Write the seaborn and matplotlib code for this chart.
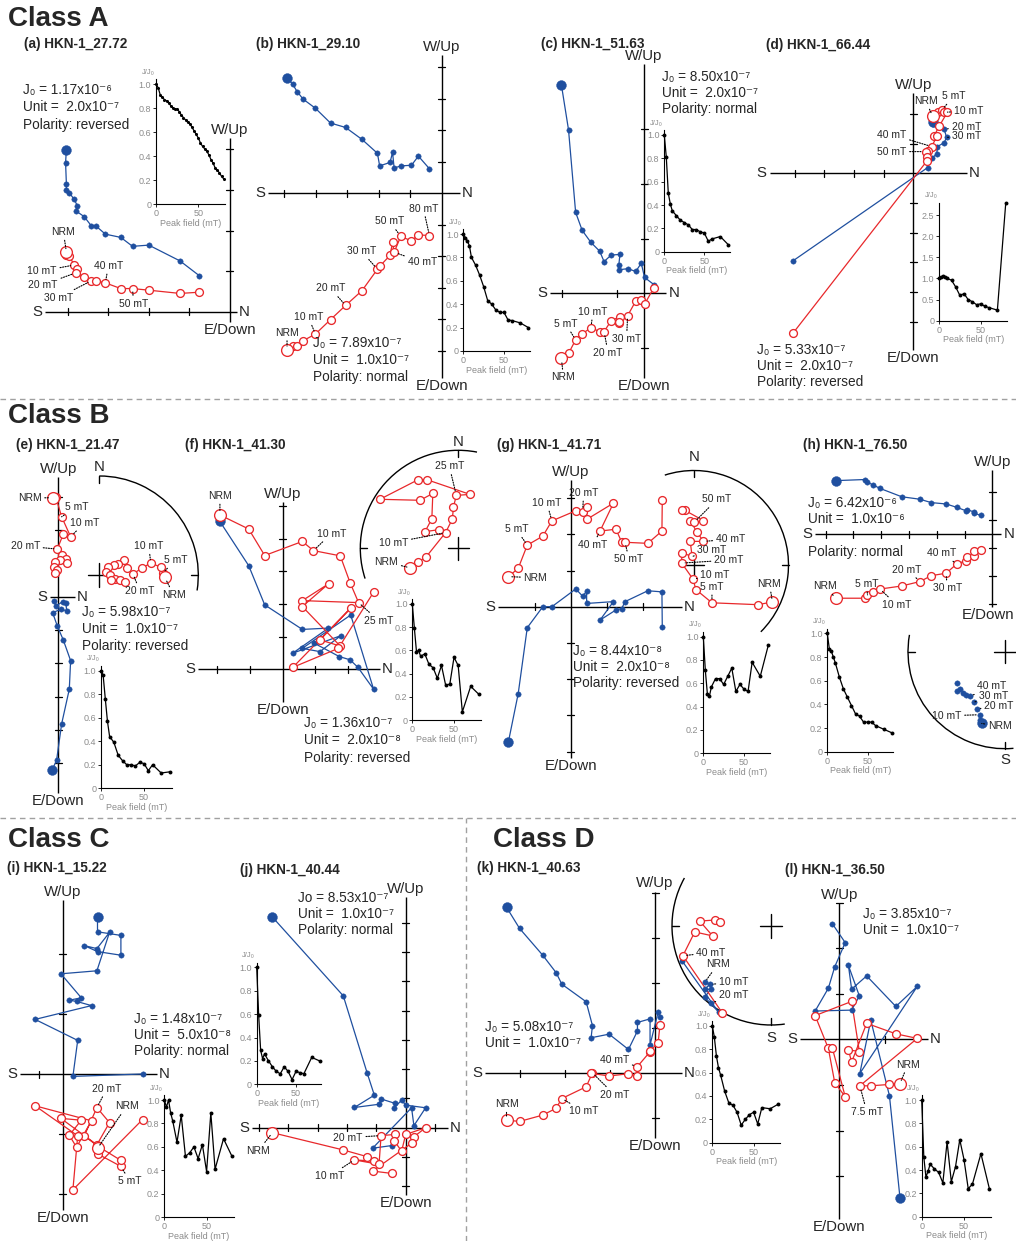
import numpy as np
import pandas as pd
import matplotlib
matplotlib.use("Agg")
import matplotlib.pyplot as plt
from matplotlib.patches import Arc
from matplotlib.lines import Line2D
import seaborn as sns

sns.set_style("white")
plt.rcParams['font.family'] = ['Liberation Sans', 'DejaVu Sans']

BLUE = '#1f4f9f'
RED = '#e8282b'
GRAY = '#8c8c8c'

# ============================ DATA ============================
FIELD = [0, 2.5, 5, 7.5, 10, 15, 20, 25, 30, 35, 40, 45, 50, 55, 60, 70, 80]
FIELD_A = [0, 2.5, 5, 7.5, 10, 12.5, 15, 17.5, 20, 22.5, 25, 27.5, 30, 32.5, 35,
           37.5, 40, 42.5, 45, 47.5, 50, 52.5, 55, 57.5, 60, 62.5, 65, 67.5, 70,
           72.5, 75, 77.5, 80]

# (a) HKN-1_27.72
a_x = [-4.03, -4.05, -4.03, -4.03, -3.96, -3.84, -3.76, -3.79, -3.59, -3.42, -3.30, -3.07, -2.69, -2.40, -2.00, -1.23, -0.76]
a_hy = [3.98, 3.67, 3.15, 3.00, 2.93, 2.77, 2.61, 2.48, 2.34, 2.12, 2.11, 1.91, 1.83, 1.61, 1.64, 1.25, 0.89]
a_vy = [1.47, 1.43, 1.41, 1.39, 1.38, 1.15, 1.06, 0.96, 0.85, 0.76, 0.76, 0.71, 0.57, 0.57, 0.53, 0.45, 0.48]
a_J = [1.0, 0.97, 0.91, 0.89, 0.87, 0.86, 0.84, 0.82, 0.80, 0.79, 0.79, 0.77, 0.74, 0.72, 0.70, 0.68, 0.67,
       0.64, 0.61, 0.58, 0.55, 0.51, 0.48, 0.46, 0.44, 0.41, 0.37, 0.34, 0.30, 0.28, 0.26, 0.23, 0.21]
a_info = ['J₀ = 1.17x10⁻⁶', 'Unit =  2.0x10⁻⁷', 'Polarity: reversed']

# (b) HKN-1_29.10
b_x = [-4.91, -4.73, -4.59, -4.40, -4.01, -3.53, -3.05, -2.53, -2.04, -1.97, -1.64, -1.56, -1.51, -1.30, -0.96, -0.74, -0.39]
b_hy = [3.67, 3.46, 3.23, 2.99, 2.70, 2.23, 2.09, 1.71, 1.27, 0.87, 0.98, 1.30, 0.80, 0.87, 0.89, 1.18, 0.78]
b_vy = [-4.96, -4.86, -4.86, -4.68, -4.47, -4.01, -3.56, -3.09, -2.41, -2.32, -1.97, -1.56, -1.87, -1.37, -1.51, -1.32, -1.34]
b_J = [1.0, 0.97, 0.94, 0.90, 0.80, 0.735, 0.65, 0.55, 0.43, 0.40, 0.35, 0.33, 0.33, 0.265, 0.26, 0.24, 0.20]
b_info = ['J₀ = 7.89x10⁻⁷', 'Unit =  1.0x10⁻⁷', 'Polarity: normal']

# (c) HKN-1_51.63
c_x = [-1.51, -1.38, -1.25, -1.13, -0.97, -0.81, -0.73, -0.60, -0.44, -0.46, -0.46, -0.30, -0.15, -0.05, 0.01, 0.18]
c_hy = [3.81, 2.99, 1.48, 1.15, 0.93, 0.77, 0.58, 0.70, 0.71, 0.52, 0.43, 0.45, 0.40, 0.55, 0.29, 0.16]
c_vy = [-1.19, -1.10, -0.85, -0.74, -0.63, -0.70, -0.70, -0.50, -0.43, -0.55, -0.52, -0.41, -0.14, -0.13, -0.20, 0.10]
c_J = [1.0, 0.81, 0.50, 0.41, 0.35, 0.31, 0.27, 0.25, 0.23, 0.19, 0.19, 0.17, 0.16, 0.09, 0.11, 0.13, 0.06]
c_info = ['J₀ = 8.50x10⁻⁷', 'Unit =  2.0x10⁻⁷', 'Polarity: normal']

# (d) HKN-1_66.44
d_hx = [0.66, 0.67, 1.04, 1.12, 1.04, 0.81, 0.79, 0.62, 0.48, -4.04]
d_hy = [1.74, 1.66, 1.49, 1.21, 1.03, 0.90, 0.65, 0.51, 0.19, -2.94]
d_vx = [0.65, 0.82, 0.96, 1.03, 1.15, 0.88, 0.70, 0.79, 0.62, 0.51, 0.42, 0.45, 0.47, -4.04]
d_vy = [1.93, 2.08, 2.13, 2.06, 2.06, 1.60, 1.26, 1.24, 0.90, 0.75, 0.73, 0.54, 0.43, -5.37]
d_J = [1.0, 1.03, 1.05, 1.03, 1.0, 0.96, 0.80, 0.60, 0.64, 0.50, 0.45, 0.38, 0.40, 0.34, 0.31, 0.25, 2.78]
d_info = ['J₀ = 5.33x10⁻⁷', 'Unit =  2.0x10⁻⁷', 'Polarity: reversed']

# (e) HKN-1_21.47
e_hx = [-0.18, -0.05, 0.10, 0.33, 0.37, 0.15, -0.03, -0.17, 0.07, 0.25, 0.23, 0.13, -0.07, -0.13]
e_hy = [-5.20, -4.90, -3.82, -2.78, -1.92, -1.30, -0.88, -0.48, -0.38, -0.42, -0.20, -0.15, -0.28, -0.13]
e_vx = [-0.17, -0.07, 0.10, 0.37, 0.15, -0.03, 0.12, 0.23, 0.05, 0.25, -0.10, -0.12, -0.03, -0.10]
e_vy = [2.97, 2.98, 2.40, 1.80, 1.88, 1.43, 1.25, 1.12, 1.10, 1.00, 1.03, 0.90, 0.80, 0.70]
e_sx = [0.66, 0.64, 0.62, 0.52, 0.43, 0.34, 0.28, 0.25, 0.19, 0.15, 0.09, 0.07, 0.11, 0.16, 0.21, 0.26, 0.12]
e_sy = [-0.02, 0.02, 0.08, 0.12, 0.07, 0.01, 0.07, 0.15, 0.11, 0.10, 0.08, 0.03, 0.00, -0.04, -0.05, -0.07, -0.05]
e_J = [1.0, 0.96, 0.76, 0.57, 0.44, 0.39, 0.28, 0.235, 0.20, 0.20, 0.19, 0.22, 0.21, 0.15, 0.20, 0.13, 0.14]
e_info = ['J₀ = 5.98x10⁻⁷', 'Unit =  1.0x10⁻⁷', 'Polarity: reversed']

# (f) HKN-1_41.30
f_hx = [-1.92, -1.04, -0.55, 0.60, 1.40, 0.30, 1.78, 1.14, 0.60, 2.08, 2.78, 2.30, 2.06, 1.73, 0.96]
f_hy = [4.52, 3.17, 1.97, 1.22, 1.26, 0.49, 1.03, 0.54, 0.64, 1.66, -0.61, 0.06, 0.29, 0.39, 0.80]
f_vx = [-1.92, -1.04, -0.55, 0.60, 0.94, 1.76, 2.06, 2.32, 0.60, 1.41, 0.60, 1.76, 1.14, 2.08, 0.31, 1.70, 2.78]
f_vy = [4.72, 4.29, 3.48, 3.91, 3.63, 3.47, 2.65, 2.04, 2.10, 2.62, 1.92, 0.71, 0.90, 1.87, 0.06, 0.64, 2.36]
f_sx = [-0.49, -0.41, -0.33, -0.13, -0.06, -0.05, -0.02, 0.12, -0.32, -0.41, -0.80, -0.39, -0.26, -0.27, -0.34, -0.20]
f_sy = [-0.20, -0.14, -0.09, 0.16, 0.30, 0.42, 0.54, 0.55, 0.70, 0.70, 0.50, 0.49, 0.56, 0.30, 0.17, 0.19]
f_J = [1.0, 0.79, 0.59, 0.60, 0.55, 0.57, 0.48, 0.45, 0.36, 0.47, 0.30, 0.31, 0.54, 0.47, 0.07, 0.29, 0.22]
f_info = ['J₀ = 1.36x10⁻⁷', 'Unit =  2.0x10⁻⁸', 'Polarity: reversed']

# (g) HKN-1_41.71
g_x = [-1.72, -1.45, -1.20, -0.77, -0.52, 0.14, 0.33, 0.44, 0.44, 1.18, 0.81, 1.25, 1.41, 1.50, 2.13, 2.52, 2.53]
g_hy = [-3.73, -2.40, -0.58, 0.00, 0.00, 0.49, 0.29, 0.43, 0.09, 0.14, -0.37, -0.09, -0.05, 0.14, 0.44, 0.41, -0.57]
g_vy = [0.83, 1.06, 1.70, 1.95, 2.37, 2.65, 2.62, 2.75, 2.41, 2.86, 2.09, 2.14, 1.78, 1.78, 1.75, 2.09, 2.95]
g_sx = [0.83, 0.68, 0.19, 0.02, -0.01, -0.13, -0.13, -0.02, -0.04, 0.10, 0.03, -0.04, 0.00, 0.10, -0.10, -0.13]
g_sy = [-0.39, -0.42, -0.40, -0.26, -0.15, 0.02, 0.13, 0.09, 0.25, 0.25, 0.35, 0.47, 0.45, 0.47, 0.58, 0.58]
g_J = [1.0, 0.71, 0.51, 0.49, 0.57, 0.64, 0.64, 0.59, 0.66, 0.73, 0.53, 0.59, 0.55, 0.53, 0.78, 0.66, 0.93]
g_info = ['J₀ = 8.44x10⁻⁸', 'Unit =  2.0x10⁻⁸', 'Polarity: reversed']

# (h) HKN-1_76.50
h_x = [-5.63, -4.57, -4.49, -4.28, -4.04, -3.26, -2.60, -2.20, -1.66, -1.28, -0.96, -0.92, -0.65, -0.65, -0.42]
h_hy = [1.92, 1.96, 1.86, 1.76, 1.64, 1.34, 1.25, 1.13, 1.08, 0.96, 0.84, 0.88, 0.79, 0.75, 0.67]
h_vy = [-2.31, -2.31, -2.19, -2.10, -1.98, -1.87, -1.71, -1.50, -1.41, -1.08, -0.96, -0.83, -0.78, -0.62, -0.57]
h_sx = [-0.24, -0.26, -0.26, -0.29, -0.32, -0.36, -0.40, -0.43, -0.46, -0.49, -0.50]
h_sy = [-0.74, -0.70, -0.65, -0.59, -0.52, -0.46, -0.45, -0.43, -0.38, -0.41, -0.32]
h_J = [1.0, 0.87, 0.85, 0.80, 0.75, 0.63, 0.53, 0.46, 0.39, 0.32, 0.30, 0.25, 0.25, 0.25, 0.22, 0.19, 0.16]
h_info = ['J₀ = 6.42x10⁻⁶', 'Unit =  1.0x10⁻⁶', 'Polarity: normal']

# (i) HKN-1_15.22
i_x = [0.58, 0.58, 0.97, 0.97, 0.58, 0.36, 0.57, 0.78, 0.57, -0.03, 0.31, 0.11, 0.23, 0.48, -0.46, 0.25, 0.17, 1.33]
i_hy = [2.61, 2.37, 2.31, 1.98, 2.04, 2.14, 2.09, 2.36, 1.72, 1.67, 1.27, 1.23, 1.21, 1.14, 0.91, 0.56, -0.04, 0.00]
i_vy = [-1.24, -1.33, -1.54, -1.44, -1.20, -1.03, -0.56, -0.81, -1.18, -0.74, -0.77, -1.02, -1.22, -0.78, -0.53, -1.03, -1.93, -0.76]
i_J = [1.0, 0.94, 1.0, 0.89, 0.82, 0.64, 0.87, 0.52, 0.55, 0.60, 0.50, 0.62, 0.39, 0.89, 0.41, 0.67, 0.52]
i_info = ['J₀ = 1.48x10⁻⁷', 'Unit =  5.0x10⁻⁸', 'Polarity: normal']

# (j) HKN-1_40.44
j_x = [-4.55, -2.13, -1.31, -1.07, -1.75, -0.91, -0.84, -0.36, -0.39, -0.14, 0.00, 0.68, 0.28, 0.20, -1.13, -0.48]
j_hy = [7.19, 4.50, 1.85, 1.11, 0.69, 0.80, 0.98, 0.83, 0.68, 0.94, 0.77, 0.68, 0.07, 0.68, -0.70, -0.61]
j_vy = [-0.17, -0.76, -0.99, -1.14, -1.10, -1.25, -0.27, -0.23, -0.45, -0.80, -0.23, 0.00, -0.31, -0.53, -1.48, -1.56]
j_J = [1.0, 0.59, 0.29, 0.22, 0.26, 0.20, 0.15, 0.11, 0.09, 0.15, 0.11, 0.04, 0.11, 0.10, 0.09, 0.23, 0.20]
j_info = ['Jo = 8.53x10⁻⁷', 'Unit =  1.0x10⁻⁷', 'Polarity: normal']

# (k) HKN-1_40.63
k_x = [-3.30, -3.01, -2.50, -2.20, -2.07, -1.53, -1.39, -1.42, -1.02, -0.59, -0.39, -0.39, -0.11, -0.11, 0.07, 0.11]
k_hy = [3.69, 3.22, 2.63, 2.24, 1.98, 1.59, 1.06, 0.79, 0.87, 0.53, 0.94, 1.13, 1.21, 0.63, 1.36, 1.26]
k_vy = [-1.04, -1.07, -0.93, -0.78, -0.56, -0.30, 0.01, 0.00, -0.06, -0.01, -0.06, 0.15, 0.48, 0.50, 0.68, 1.07]
k_shx = [-0.67, -0.62, -0.67, -0.61, -0.67, -0.61, -0.53, -0.90]
k_shy = [-0.57, -0.59, -0.64, -0.64, -0.72, -0.78, -0.87, -0.35]
k_svx = [-0.49, -0.89, -0.77, -0.59, -0.72, -0.57, -0.52]
k_svy = [-0.88, -0.30, -0.06, -0.10, 0.05, 0.06, 0.04]
k_J = [1.0, 0.90, 0.74, 0.64, 0.58, 0.44, 0.34, 0.32, 0.26, 0.15, 0.20, 0.24, 0.26, 0.16, 0.30, 0.29, 0.33]
k_info = ['J₀ = 5.08x10⁻⁷', 'Unit =  1.0x10⁻⁷']

# (l) HKN-1_36.50
l_x = [1.33, 1.10, 0.69, 0.45, 1.71, 1.24, 0.60, 0.27, 0.20, 0.44, 0.27, -0.53, -0.24, -0.10, 0.13, -0.15]
l_hy = [-3.47, -1.24, 0.42, -0.75, 1.16, 0.72, 1.39, 1.10, 1.62, 0.95, 0.64, 0.62, 1.12, 1.59, 2.12, 2.53]
l_vy = [-0.97, -0.99, -1.02, -1.02, 0.02, 0.12, 0.35, -0.50, -0.23, -0.27, 0.83, 0.52, -0.20, -0.95, -1.26, -0.20]
l_J = [1.0, 0.51, 0.34, 0.39, 0.45, 0.41, 0.38, 0.29, 0.64, 0.30, 0.43, 0.66, 0.49, 0.24, 0.28, 0.54, 0.24]
l_info = ['J₀ = 3.85x10⁻⁷', 'Unit =  1.0x10⁻⁷']

# ============================ LAYOUT ============================
W, H = 1016, 1241
fig = plt.figure(figsize=(W / 100, H / 100), dpi=100)
fig.patch.set_facecolor('white')


def ftext(x, y, s, **kw):
    fig.text(x / W, 1 - y / H, s, **kw)


def add_axes_px(left, top, width, height):
    ax = fig.add_axes([left / W, 1 - (top + height) / H, width / W, height / H])
    ax.patch.set_alpha(0)
    return ax


def draw_series(ax, xs, ys, kind, big_first=True, connect=True):
    df = pd.DataFrame({'x': xs, 'y': ys})
    col = BLUE if kind == 'h' else RED
    if connect:
        sns.lineplot(data=df, x='x', y='y', sort=False, estimator=None, color=col,
                     lw=0.9, ax=ax, legend=False, zorder=2, clip_on=False)
    rest = df.iloc[1:] if big_first else df
    if kind == 'h':
        sns.scatterplot(data=rest, x='x', y='y', color=col, edgecolor=col, s=15,
                        linewidth=0.3, ax=ax, legend=False, zorder=3, clip_on=False)
        if big_first:
            sns.scatterplot(data=df.iloc[:1], x='x', y='y', color=col, edgecolor=col,
                            s=50, linewidth=0.3, ax=ax, legend=False, zorder=3, clip_on=False)
    else:
        sns.scatterplot(data=rest, x='x', y='y', color='white', edgecolor=col, s=32,
                        linewidth=0.95, ax=ax, legend=False, zorder=4, clip_on=False)
        if big_first:
            sns.scatterplot(data=df.iloc[:1], x='x', y='y', color='white', edgecolor=col,
                            s=72, linewidth=0.95, ax=ax, legend=False, zorder=4, clip_on=False)
    ax.set_xlabel('')
    ax.set_ylabel('')


def leader(ax, txt, x, y, dx, dy, fs=7.5):
    ax.annotate(txt, xy=(x, y), xytext=(dx, dy), textcoords='offset pixels',
                ha='center', va='center', fontsize=fs, zorder=6,
                arrowprops=dict(arrowstyle='-', linestyle=(0, (1, 1.3)), lw=0.8,
                                color='k', shrinkA=0, shrinkB=2.5))


def zij(p):
    ox, oy, t = p['ox'], p['oy'], p['t']
    xr, yr = p['xr'], p['yr']
    pad = 0.9
    x0, x1 = xr[0] - pad, xr[1] + pad
    y0, y1 = yr[0] - pad, yr[1] + pad
    ax = fig.add_axes([(ox + x0 * t) / W, (H - oy + y0 * t) / H,
                       (x1 - x0) * t / W, (y1 - y0) * t / H])
    ax.set_axis_off()
    ax.plot(list(xr), [0, 0], color='k', lw=1.0, solid_capstyle='butt', clip_on=False, zorder=1)
    ax.plot([0, 0], list(yr), color='k', lw=1.0, solid_capstyle='butt', clip_on=False, zorder=1)
    hl = 3.5 / t
    for xv in p['xt']:
        ax.plot([xv, xv], [-hl, hl], color='k', lw=0.9, clip_on=False, zorder=1)
    for yv in p['yt']:
        ax.plot([-hl, hl], [yv, yv], color='k', lw=0.9, clip_on=False, zorder=1)
    fs = 10.8
    ax.text(xr[0] - 3 / t, 0, 'S', ha='right', va='center', fontsize=fs)
    ax.text(xr[1] + 2 / t, 0, 'N', ha='left', va='center', fontsize=fs)
    ax.text(0, yr[1] + 1 / t, 'W/Up', ha='center', va='bottom', fontsize=fs)
    ax.text(p.get('edx', 0) / t, yr[0] - 1 / t, 'E/Down', ha='center', va='top', fontsize=fs)
    hx, hy = p['h']
    vx, vy = p['v']
    draw_series(ax, hx, hy, 'h')
    draw_series(ax, vx, vy, 'v')
    for (txt, ser, idx, dx, dy) in p['labels']:
        xs, ys = (p['h'] if ser == 'h' else p['v'])
        leader(ax, txt, xs[idx], ys[idx], dx, dy)
    ax.set_xlim(x0, x1)
    ax.set_ylim(y0, y1)
    # title + info text
    tx, ty = p['tpos']
    ftext(tx, ty, p['title'], fontsize=9.8, fontweight='bold', ha='left', va='center')
    jx, jys, lines = p['info']
    for yy, s in zip(jys, lines):
        ftext(jx, yy, s, fontsize=9.8, ha='left', va='center')


def inset(q):
    x0, y0, py1, px50 = q['x0'], q['y0'], q['py1'], q['px50']
    xmax = q.get('xmax', 82)
    ymax = q.get('ymax', 1.04)
    w = xmax / 50 * px50
    h = ymax * py1
    ax = add_axes_px(x0, y0 - h, w, h)
    df = pd.DataFrame({'f': q['F'], 'j': q['J']})
    sns.lineplot(data=df, x='f', y='j', sort=False, estimator=None, color='k', lw=0.9,
                 ax=ax, legend=False, clip_on=False, zorder=2)
    sns.scatterplot(data=df, x='f', y='j', color='k', edgecolor='k', s=q.get('s', 8),
                    linewidth=0, ax=ax, legend=False, zorder=3, clip_on=False)
    ax.set_xlim(0, xmax)
    ax.set_ylim(0, ymax)
    for sp in ['top', 'right']:
        ax.spines[sp].set_visible(False)
    for sp in ['left', 'bottom']:
        ax.spines[sp].set_color('k')
        ax.spines[sp].set_linewidth(0.8)
    ax.set_xticks([0, 50])
    ax.set_xticklabels(['0', '50'])
    yt = q.get('yt', [0, 0.2, 0.4, 0.6, 0.8, 1.0])
    ax.set_yticks(yt)
    ax.set_yticklabels(q.get('ytl', ['0', '0.2', '0.4', '0.6', '0.8', '1.0']))
    ax.tick_params(axis='both', which='both', labelsize=6.5, labelcolor=GRAY, length=2,
                   width=0.6, pad=1.5, direction='out', color='k', left=True, bottom=True)
    ax.set_xlabel('Peak field (mT)', fontsize=6.5, color=GRAY, labelpad=0.5)
    ax.set_ylabel('')
    ax.annotate('J/J₀', xy=(0, ymax), xytext=(-8, 7), textcoords='offset pixels',
                ha='center', va='center', fontsize=5.5, color=GRAY, annotation_clip=False)


def stereo(s):
    cx, cy, R = s['cx'], s['cy'], s['R']
    pad = 40
    L = (R + pad) / R
    ax = add_axes_px(cx - R - pad, cy - R - pad, 2 * (R + pad), 2 * (R + pad))
    ax.set_axis_off()
    ax.add_patch(Arc((0, 0), 2, 2, theta1=s['t1'], theta2=s['t2'], color='k', lw=1.0))
    for ang in s['ticks']:
        a = np.deg2rad(ang)
        ax.plot([0.93 * np.cos(a), np.cos(a)], [0.93 * np.sin(a), np.sin(a)], color='k', lw=1.0)
    ax.plot([-0.11, 0.11], [0, 0], color='k', lw=1.0)
    ax.plot([0, 0], [-0.12, 0.12], color='k', lw=1.0)
    for (txt, ang, r) in s['cards']:
        a = np.deg2rad(ang)
        ax.text(r * np.cos(a), r * np.sin(a), txt, ha='center', va='center', fontsize=10.8)
    for (xs, ys, kind, connect, big) in s['series']:
        draw_series(ax, xs, ys, kind, big_first=big, connect=connect)
    for (txt, si, idx, dx, dy) in s['labels']:
        xs, ys = s['series'][si][0], s['series'][si][1]
        leader(ax, txt, xs[idx], ys[idx], dx, dy)
    ax.set_xlim(-L, L)
    ax.set_ylim(-L, L)


PANELS = [
    dict(title='(a) HKN-1_27.72', tpos=(24, 44), ox=230, oy=311.7, t=40.6,
         xr=(-4.56, 0.17), yr=(-0.25, 4.28), xt=[-1, -2, -3, -4], yt=[1, 2, 3, 4],
         h=(a_x, a_hy), v=(a_x, a_vy),
         labels=[('NRM', 'v', 0, -3, 20), ('10 mT', 'v', 5, -32, -6), ('20 mT', 'v', 7, -33, -12),
                 ('30 mT', 'v', 9, -33, -17), ('40 mT', 'v', 11, 3, 17), ('50 mT', 'v', 13, 1, -15)],
         info=(23, [90, 107, 125], a_info)),
    dict(title='(b) HKN-1_29.10', tpos=(256, 44), ox=441.7, oy=193.3, t=31.5,
         xr=(-5.5, 0.58), yr=(-5.87, 4.39), xt=[-1, -2, -3, -4, -5],
         yt=[1, 2, 3, 4, -1, -2, -3, -4, -5],
         h=(b_x, b_hy), v=(b_x, b_vy),
         labels=[('NRM', 'v', 0, 0, 17), ('10 mT', 'v', 4, -7, 17), ('20 mT', 'v', 6, -15, 17),
                 ('30 mT', 'v', 8, -16, 18), ('50 mT', 'v', 13, -11, 15), ('80 mT', 'v', 16, -6, 27),
                 ('40 mT', 'v', 12, 28, -10)],
         info=(312.7, [343, 360, 377], b_info)),
    dict(title='(c) HKN-1_51.63', tpos=(541, 44), ox=644, oy=293.3, t=54.7,
         xr=(-1.72, 0.41), yr=(-1.55, 4.2), xt=[-0.5, -1.5], yt=[1, 2, 3, -1],
         h=(c_x, c_hy), v=(c_x, c_vy),
         labels=[('NRM', 'v', 0, 2, -19), ('5 mT', 'v', 2, -10, 16), ('10 mT', 'v', 4, 2, 16),
                 ('20 mT', 'v', 6, 4, -21), ('30 mT', 'v', 11, -1, -23)],
         info=(662.3, [77, 93, 109], c_info)),
    dict(title='(d) HKN-1_66.44', tpos=(766, 45), ox=913.3, oy=173.3, t=29.7,
         xr=(-4.83, 1.8), yr=(-5.95, 2.69), xt=[-1, -2, -3, -4], yt=[1, 2, -1, -2, -3, -4, -5],
         h=(d_hx, d_hy), v=(d_vx, d_vy),
         labels=[('NRM', 'v', 0, -7, 15), ('5 mT', 'v', 2, 12, 14), ('10 mT', 'v', 4, 21, 1),
                 ('20 mT', 'h', 2, 22, 2), ('30 mT', 'h', 3, 20, 1), ('40 mT', 'v', 8, -40, 12),
                 ('50 mT', 'v', 10, -34, 0)],
         info=(757.3, [350, 366, 382], d_info)),
    dict(title='(e) HKN-1_21.47', tpos=(16, 445), ox=58.3, oy=596.7, t=33.3,
         xr=(-0.25, 0.5), yr=(-5.9, 3.6), xt=[], yt=[1, 2, 3, -1, -2, -3, -4, -5],
         h=(e_hx, e_hy), v=(e_vx, e_vy),
         labels=[('NRM', 'v', 0, -23, 0), ('5 mT', 'v', 2, 15, 10), ('10 mT', 'v', 3, 14, 14),
                 ('20 mT', 'v', 5, -32, 3)],
         info=(81.7, [612, 629, 646], e_info)),
    dict(title='(f) HKN-1_41.30', tpos=(185, 445), ox=282.7, oy=669.3, t=32.7,
         xr=(-2.58, 2.98), yr=(-0.99, 5.13), xt=[-2, -1, 1, 2], yt=[1, 2, 3, 4, 5],
         h=(f_hx, f_hy), v=(f_vx, f_vy),
         labels=[('NRM', 'v', 0, 0, 19), ('10 mT', 'v', 4, 18, 17), ('25 mT', 'v', 7, 20, -18)],
         info=(304, [723, 740, 758], f_info)),
    dict(title='(g) HKN-1_41.71', tpos=(497, 445), ox=570.7, oy=606.7, t=36.2,
         xr=(-2.0, 3.07), yr=(-4.19, 3.5), xt=[-1, 1, 2], yt=[1, 2, 3, -1, -2, -3, -4],
         h=(g_x, g_hy), v=(g_x, g_vy),
         labels=[('NRM', 'v', 0, 27, -1), ('5 mT', 'v', 2, -11, 16), ('10 mT', 'v', 4, -5, 18),
                 ('20 mT', 'v', 6, 1, 19), ('40 mT', 'v', 10, -7, -14), ('50 mT', 'v', 13, 4, -17)],
         info=(573.3, [651, 667, 683], g_info)),
    dict(title='(h) HKN-1_76.50', tpos=(803, 445), ox=992.3, oy=534, t=27.8, edx=-4,
         xr=(-6.38, 0.33), yr=(-2.61, 2.3), xt=[-1, -2, -3, -4, -5, -6],
         yt=[0.5, 1.5, -0.5, -1.5, -2.5],
         h=(h_x, h_hy), v=(h_x, h_vy),
         labels=[('NRM', 'v', 0, -11, 12), ('5 mT', 'v', 2, -1, 11), ('10 mT', 'v', 4, 17, -16),
                 ('20 mT', 'v', 6, -13, 12), ('30 mT', 'v', 8, 1, -15), ('40 mT', 'v', 9, -15, 11)],
         info=(808.3, [503, 519, 552], h_info)),
    dict(title='(i) HKN-1_15.22', tpos=(7, 868), ox=62.7, oy=1074, t=60,
         xr=(-0.71, 1.57), yr=(-2.27, 2.9), xt=[-0.39], yt=[1, 2, -1, -2],
         h=(i_x, i_hy), v=(i_x, i_vy),
         labels=[('NRM', 'v', 0, 29, 42), ('5 mT', 'v', 2, 9, -15), ('20 mT', 'v', 6, 10, 19)],
         info=(134, [1019, 1035, 1051], i_info)),
    dict(title='(j) HKN-1_40.44', tpos=(240, 870), ox=405.7, oy=1127.7, t=29.3,
         xr=(-5.25, 1.45), yr=(-2.3, 7.88), xt=[-1, -2, -3, -4, -5, 1],
         yt=[1, 2, 3, 4, 5, 6, 7, -1, -2],
         h=(j_x, j_hy), v=(j_x, j_vy),
         labels=[('NRM', 'v', 0, -14, -18), ('10 mT', 'v', 4, -25, -16), ('20 mT', 'v', 6, -33, -2)],
         info=(297.7, [898, 914, 930], j_info)),
    dict(title='(k) HKN-1_40.63', tpos=(477, 868), ox=655, oy=1073.3, t=45,
         xr=(-3.78, 0.59), yr=(-1.44, 4.04), xt=[-1, -2, -3], yt=[1, 2, 3, 4, -1],
         h=(k_x, k_hy), v=(k_x, k_vy),
         labels=[('NRM', 'v', 0, 0, 16), ('10 mT', 'v', 4, 22, -13), ('20 mT', 'v', 6, 22, -22),
                 ('40 mT', 'v', 11, -23, 7)],
         info=(485, [1027, 1043], k_info)),
    dict(title='(l) HKN-1_36.50', tpos=(785, 870), ox=839.3, oy=1039.3, t=45.6,
         xr=(-0.86, 1.95), yr=(-3.93, 2.98), xt=[1], yt=[1, 2, 3, -1, -2, -3],
         h=(l_x, l_hy), v=(l_x, l_vy),
         labels=[('NRM', 'v', 0, 8, 19), ('7.5 mT', 'v', 3, 7, -26)],
         info=(862.7, [914, 930], l_info)),
]

INSETS = [
    dict(x0=156, y0=204, py1=120, px50=42.3, F=FIELD_A, J=a_J, s=5),
    dict(x0=463.3, y0=351, py1=117, px50=40.7, F=FIELD, J=b_J),
    dict(x0=664.3, y0=251.7, py1=116.7, px50=40, F=FIELD, J=c_J),
    dict(x0=939, y0=320.7, py1=42.2, px50=41.7, F=FIELD, J=d_J, ymax=2.8,
         yt=[0, 0.5, 1.0, 1.5, 2.0, 2.5], ytl=['0', '0.5', '1.0', '1.5', '2.0', '2.5']),
    dict(x0=101, y0=788.3, py1=117.7, px50=43, F=FIELD, J=e_J),
    dict(x0=412.3, y0=720, py1=116, px50=41.7, F=FIELD, J=f_J),
    dict(x0=703.3, y0=753.3, py1=116.7, px50=40.7, F=FIELD, J=g_J),
    dict(x0=827.3, y0=751.7, py1=118.3, px50=40.3, F=FIELD, J=h_J),
    dict(x0=164.3, y0=1217.3, py1=117.3, px50=42.3, F=FIELD, J=i_J),
    dict(x0=256.7, y0=1084.3, py1=117, px50=39.3, F=FIELD, J=j_J),
    dict(x0=712.3, y0=1142.7, py1=117, px50=41.3, F=FIELD, J=k_J),
    dict(x0=921.7, y0=1216.7, py1=116.7, px50=42.3, F=FIELD, J=l_J),
]

STEREOS = [
    dict(cx=99.3, cy=575, R=99, t1=-9, t2=90, ticks=[90, 0], cards=[('N', 90, 1.09)],
         series=[(e_sx, e_sy, 'v', True, True)],
         labels=[('NRM', 0, 0, 9, -18), ('5 mT', 0, 1, 13, 13), ('10 mT', 0, 3, -2, 17),
                 ('20 mT', 0, 5, 7, -17)]),
    dict(cx=458.3, cy=548.3, R=98, t1=79, t2=198, ticks=[90, 180], cards=[('N', 90, 1.08)],
         series=[(f_sx, f_sy, 'v', True, True)],
         labels=[('NRM', 0, 0, -24, 6), ('10 mT', 0, 3, -52, -10), ('25 mT', 0, 6, -7, 29)]),
    dict(cx=694, cy=565, R=94.5, t1=-45, t2=108, ticks=[90, 0], cards=[('N', 90, 1.14)],
         series=[(g_sx, g_sy, 'v', True, True)],
         labels=[('NRM', 0, 0, -3, 18), ('5 mT', 0, 2, 0, 16), ('10 mT', 0, 4, 22, 4),
                 ('20 mT', 0, 5, 47, 3), ('30 mT', 0, 7, 20, 6), ('40 mT', 0, 9, 27, 2),
                 ('50 mT', 0, 12, 23, 23)]),
    dict(cx=1005, cy=651.7, R=97, t1=170, t2=275, ticks=[180, 270], cards=[('S', 270, 1.12)],
         series=[(h_sx, h_sy, 'h', False, True)],
         labels=[('NRM', 0, 0, 18, -3), ('10 mT', 0, 2, -33, -1), ('20 mT', 0, 3, 22, 3),
                 ('30 mT', 0, 4, 20, 6), ('40 mT', 0, 5, 22, 10)]),
    dict(cx=771, cy=926, R=99, t1=151, t2=278, ticks=[180, 270], cards=[('S', 270, 1.13)],
         series=[(k_shx, k_shy, 'h', True, False), (k_svx, k_svy, 'v', True, False)],
         labels=[('40 mT', 1, 1, 28, 3), ('NRM', 0, 0, 13, 18), ('10 mT', 0, 1, 24, 2),
                 ('20 mT', 0, 5, 23, 8)]),
]

for p in PANELS:
    zij(p)
for s in STEREOS:
    stereo(s)
for q in INSETS:
    inset(q)

# class headings
for (x, y, s) in [(8, 19, 'Class A'), (8, 416, 'Class B'), (8, 840, 'Class C'), (493, 840, 'Class D')]:
    ftext(x, y, s, fontsize=20, fontweight='bold', ha='left', va='center')

# dashed separators
sep_kw = dict(color='#a0a0a0', lw=1.0, linestyle=(0, (4, 3)))
fig.add_artist(Line2D([0, 1], [1 - 399 / H, 1 - 399 / H], transform=fig.transFigure, **sep_kw))
fig.add_artist(Line2D([0, 1], [1 - 818 / H, 1 - 818 / H], transform=fig.transFigure, **sep_kw))
fig.add_artist(Line2D([466 / W, 466 / W], [0, 1 - 818 / H], transform=fig.transFigure, **sep_kw))

fig.savefig('out.png', dpi=100)
